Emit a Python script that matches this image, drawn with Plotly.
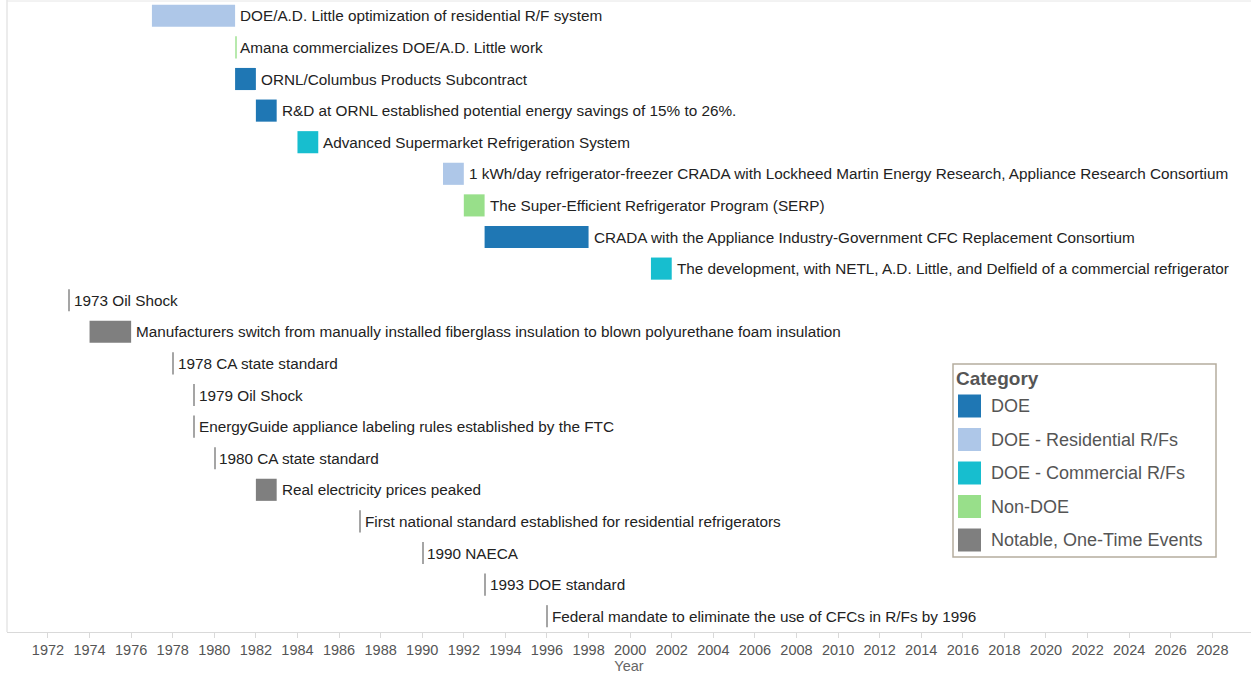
import plotly.graph_objects as go

# ---- data ----
events = [
    "DOE/A.D. Little optimization of residential R/F system",
    "Amana commercializes DOE/A.D. Little work",
    "ORNL/Columbus Products Subcontract",
    "R&D at ORNL established potential energy savings of 15% to 26%.",
    "Advanced Supermarket Refrigeration System",
    "1 kWh/day refrigerator-freezer CRADA with Lockheed Martin Energy Research, Appliance Research Consortium",
    "The Super-Efficient Refrigerator Program (SERP)",
    "CRADA with the Appliance Industry-Government CFC Replacement Consortium",
    "The development, with NETL, A.D. Little, and Delfield of a commercial refrigerator",
    "1973 Oil Shock",
    "Manufacturers switch from manually installed fiberglass insulation to blown polyurethane foam insulation",
    "1978 CA state standard",
    "1979 Oil Shock",
    "EnergyGuide appliance labeling rules established by the FTC",
    "1980 CA state standard",
    "Real electricity prices peaked",
    "First national standard established for residential refrigerators",
    "1990 NAECA",
    "1993 DOE standard",
    "Federal mandate to eliminate the use of CFCs in R/Fs by 1996",
]
start_year = [1977, 1981, 1981, 1982, 1984, 1991, 1992, 1993, 2001,
              1973, 1974, 1978, 1979, 1979, 1980, 1982, 1987, 1990, 1993, 1996]
duration = [4, 0, 1, 1, 1, 1, 1, 5, 1,
            0, 2, 0, 0, 0, 0, 1, 0, 0, 0, 0]
category = ["DOE - Residential R/Fs", "Non-DOE", "DOE", "DOE", "DOE - Commercial R/Fs",
            "DOE - Residential R/Fs", "Non-DOE", "DOE", "DOE - Commercial R/Fs",
            "Notable, One-Time Events", "Notable, One-Time Events", "Notable, One-Time Events",
            "Notable, One-Time Events", "Notable, One-Time Events", "Notable, One-Time Events",
            "Notable, One-Time Events", "Notable, One-Time Events", "Notable, One-Time Events",
            "Notable, One-Time Events", "Notable, One-Time Events"]
categories = ["DOE", "DOE - Residential R/Fs", "DOE - Commercial R/Fs", "Non-DOE",
              "Notable, One-Time Events"]
cat_colors = ["#1f77b4", "#aec7e8", "#17becf", "#98df8a", "#7f7f7f"]
tick_years = list(range(1972, 2029, 2))

# ---- figure ----
FONT = "Liberation Sans, Arial"
color_of = dict(zip(categories, cat_colors))
fig = go.Figure()
MIN_W = 0.05
for cat in categories:
    idx = [i for i, c in enumerate(category) if c == cat]
    fig.add_trace(go.Bar(
        orientation="h",
        y=idx,
        base=[start_year[i] for i in idx],
        x=[max(duration[i], MIN_W) for i in idx],
        marker=dict(color=color_of[cat],
                    opacity=[1.0 if duration[i] > 0 else 0.7 for i in idx],
                    line=dict(width=0)),
        width=0.7,
        name=cat,
        showlegend=False,
        hoverinfo="skip",
    ))

annotations = []
for i, ev in enumerate(events):
    annotations.append(dict(
        x=start_year[i] + duration[i], y=i, xref="x", yref="y",
        text=ev, showarrow=False, xanchor="left", yanchor="middle",
        xshift=3, font=dict(family=FONT, size=15.3, color="#222"),
    ))

# manual legend (pixel -> paper conversion)
PL, PT, PW, PH = 7, 0, 1244, 632
def px(x):
    return (x - PL) / PW
def py(y):
    return 1 - (y - PT) / PH

shapes = [
    dict(type="rect", xref="paper", yref="paper", x0=px(953), x1=px(1216),
         y0=py(364), y1=py(557), line=dict(color="#b5ad9e", width=1.5),
         fillcolor="white", layer="above"),
    dict(type="line", xref="paper", yref="paper", x0=0, x1=0, y0=0, y1=1,
         line=dict(color="#d9d9d9", width=1)),
    dict(type="line", xref="paper", yref="paper", x0=0, x1=1, y0=py(1), y1=py(1),
         line=dict(color="#e6e6e6", width=1)),
]
annotations.append(dict(
    x=px(954), y=py(378), xref="paper", yref="paper", text="<b>Category</b>",
    showarrow=False, xanchor="left", yanchor="middle",
    font=dict(family=FONT, size=19, color="#555555")))
for k, cat in enumerate(categories):
    cy = 406 + k * 33.5
    shapes.append(dict(type="rect", xref="paper", yref="paper",
                       x0=px(958), x1=px(981), y0=py(cy - 11.5), y1=py(cy + 11.5),
                       fillcolor=cat_colors[k], line=dict(width=0), layer="above"))
    annotations.append(dict(
        x=px(989), y=py(cy), xref="paper", yref="paper", text=cat,
        showarrow=False, xanchor="left", yanchor="middle",
        font=dict(family=FONT, size=18, color="#555555")))

fig.update_layout(
    width=1251, height=675,
    margin=dict(l=PL, r=0, t=PT, b=675 - PT - PH, autoexpand=False),
    paper_bgcolor="white", plot_bgcolor="white",
    barmode="overlay",
    annotations=annotations,
    shapes=shapes,
    font=dict(family=FONT, color="#555555"),
    xaxis=dict(
        range=[1970.03, 2029.86],
        tickmode="array", tickvals=tick_years, ticktext=[str(t) for t in tick_years],
        tickfont=dict(size=14.5, color="#555555"),
        ticks="outside", ticklen=5, tickcolor="#d9d9d9",
        showgrid=False, zeroline=False,
        showline=True, linecolor="#d9d9d9", linewidth=1,
        title=dict(text="Year", font=dict(size=14.5, color="#666666"), standoff=2),
        automargin=False,
    ),
    yaxis=dict(
        range=[len(events) - 0.5, -0.5],
        showticklabels=False, showgrid=False, zeroline=False, ticks="",
        showline=False, automargin=False,
    ),
)

fig.write_html("out.html", config={"displayModeBar": False},
               post_script="document.body.style.margin='0';")
